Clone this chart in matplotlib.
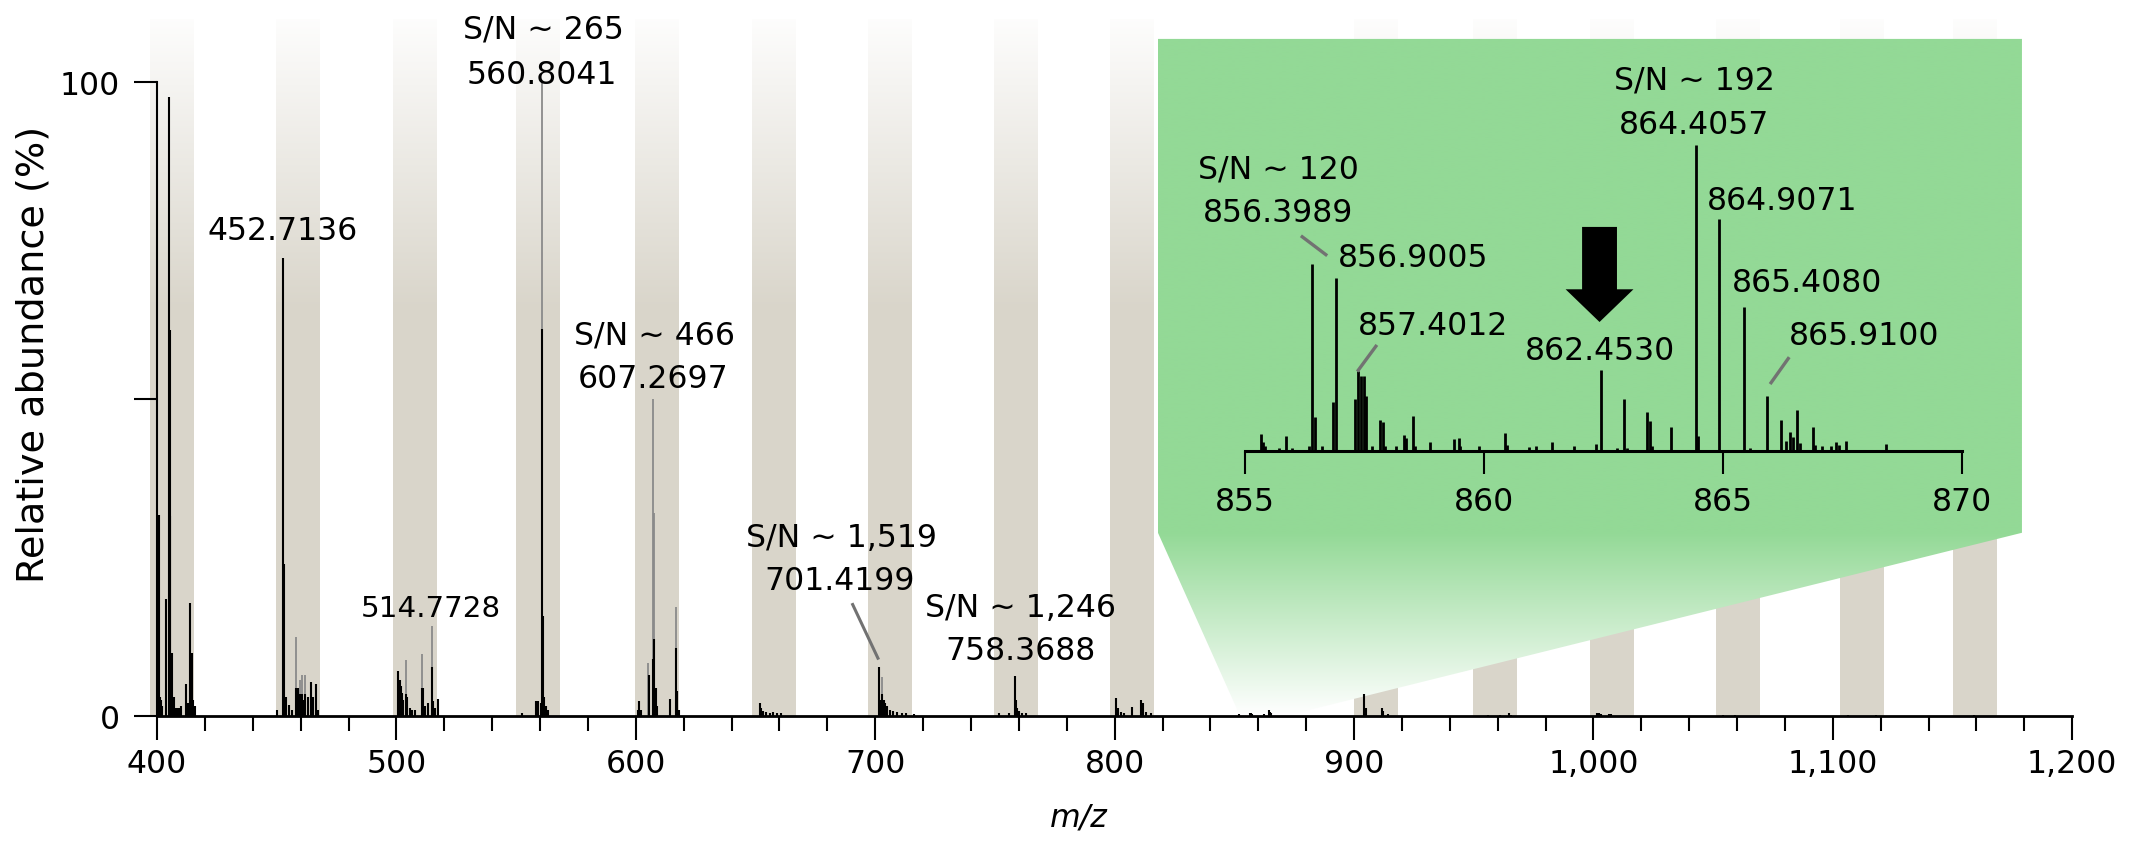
import numpy as np
import matplotlib
matplotlib.use("Agg")
import matplotlib.pyplot as plt
from matplotlib import ticker
from matplotlib.patches import Polygon, FancyArrow

plt.rcParams['font.family'] = ['DejaVu Sans']

# ---- main spectrum (m/z, relative abundance %) ----
main_mz = [400.7, 401.1, 401.6, 402.2, 403.9, 404.8, 405.35, 405.6, 406.3, 406.9, 407.6, 408.3, 409.1, 409.8,
           412.3, 413.0, 413.9, 414.4, 415.0, 415.8,
           449.9, 452.71, 453.21, 453.7, 455.2, 456.5, 458.2, 458.8, 459.9, 460.7, 461.2, 462.0, 463.0,
           464.2, 465.2, 466.6, 467.2,
           500.8, 501.3, 501.8, 502.4, 502.9, 503.9, 504.5, 505.5, 506.5, 507.8, 510.6, 511.1, 512.0,
           513.3, 514.77, 515.3, 516.0, 517.5,
           552.5, 558.2, 559.2, 560.3, 560.80, 561.30, 561.8, 562.3, 563.5,
           600.7, 601.4, 602.0, 605.5, 607.27, 607.77, 608.27, 609.0, 614.3, 616.8, 617.3, 618.0,
           651.7, 652.3, 653.0, 654.5, 656.0, 657.5, 659.0, 660.5,
           701.42, 701.9, 702.9, 703.5, 704.2, 705.0, 706.0, 707.5, 709.0, 711.0, 713.0, 716.0,
           751.5, 756.0, 758.37, 758.9, 759.4, 760.0, 761.5, 763.0,
           800.7, 801.2, 802.5, 804.0, 807.4, 811.0, 811.8, 813.0, 815.0,
           852.0, 856.4, 856.9, 857.4, 862.5, 864.4, 864.9, 865.4,
           904.2, 904.8, 911.7, 912.3, 914.0,
           956.0, 961.0, 964.9, 965.5,
           1001.5, 1002.2, 1003.0, 1006.5, 1007.5,
           1054.0, 1059.0, 1106.5, 1118.0, 1159.0]
main_int = [31.7, 3.0, 2.5, 1.5, 18.5, 97.6, 60.9, 31.5, 10.0, 3.0, 1.3, 1.2, 1.3, 1.5,
            5.0, 2.0, 17.9, 10.0, 2.5, 1.5,
            1.0, 72.2, 23.9, 3.0, 1.7, 1.0, 4.4, 4.4, 3.5, 3.5, 2.5, 3.5, 3.0,
            5.4, 3.0, 5.0, 1.0,
            7.1, 5.7, 4.7, 3.7, 2.5, 3.5, 3.0, 1.2, 1.0, 1.0, 4.4, 4.4, 1.5,
            2.0, 7.8, 2.4, 1.2, 2.7,
            0.4, 2.4, 2.4, 2.0, 61.0, 15.8, 3.0, 1.5, 1.0,
            1.0, 2.4, 1.0, 6.4, 9.0, 12.1, 4.4, 1.5, 2.7, 10.8, 4.0, 1.0,
            2.0, 1.2, 0.8, 0.6, 0.5, 0.6, 0.5, 0.4,
            7.8, 2.5, 3.5, 2.5, 2.0, 1.5, 1.0, 0.8, 0.6, 0.5, 0.4, 0.3,
            0.4, 0.5, 6.3, 2.5, 1.2, 0.8, 0.5, 0.4,
            2.9, 1.2, 0.6, 0.4, 1.4, 2.6, 2.0, 0.6, 0.4,
            0.3, 0.5, 0.4, 0.3, 0.3, 1.0, 0.7, 0.4,
            3.5, 1.2, 1.2, 0.8, 0.3,
            0.2, 0.2, 0.5, 0.2,
            0.5, 0.4, 0.3, 0.3, 0.3,
            0.2, 0.2, 0.2, 0.2, 0.2]

# thin (grey looking) peak tips
tip_mz = [458.2, 459.9, 460.7, 462.0, 503.9, 510.6, 514.77, 560.80, 605.0, 607.27, 607.77, 616.8, 702.9]
tip_int = [12.5, 5.7, 6.4, 6.4, 8.8, 9.8, 14.2, 100.0, 8.4, 50.0, 32.0, 17.2, 6.2]

# shaded m/z windows
band_start = [397, 449.5, 498.5, 550, 599.5, 648.5, 697, 749.5, 798, 900, 949.5, 998.5, 1051, 1103, 1150]
band_width = 18.5

main_labels = ["S/N ~ 265", "560.8041", "452.7136", "514.7728", "S/N ~ 466", "607.2697",
               "S/N ~ 1,519", "701.4199", "S/N ~ 1,246", "758.3688"]
main_label_pos = [(561.2, 107.1), (560.8, 99.9), (452.6, 75.2), (514.5, 15.8), (607.6, 58.7),
                  (607.2, 51.9), (685.9, 26.8), (685.3, 20.0), (760.7, 15.8), (760.5, 9.0)]

# ---- inset spectrum ----
inset_mz = [855.33, 855.37, 855.42, 855.72, 855.86, 855.98, 856.33, 856.40, 856.46, 856.62, 856.84, 856.90,
            857.31, 857.36, 857.43, 857.50, 857.54, 857.66, 857.83, 857.89, 857.94, 858.15, 858.32, 858.37,
            858.51, 858.55, 858.88, 859.37, 859.47, 859.51, 859.90, 860.44, 860.49, 860.94, 861.08, 861.43,
            861.89, 862.34, 862.45, 862.78, 862.94, 862.99, 863.42, 863.47, 863.51, 863.92, 864.43, 864.48,
            864.92, 865.44, 865.57, 865.92, 866.22, 866.33, 866.41, 866.46, 866.56, 866.62, 866.89, 866.94,
            867.08, 867.26, 867.36, 867.43, 867.57, 868.42]
inset_int = [5.5, 2.7, 1.5, 1.0, 4.9, 1.0, 1.6, 61.0, 11.0, 1.6, 16.0, 56.4,
             17.0, 26.0, 24.5, 24.5, 18.0, 1.6, 10.0, 9.3, 1.6, 1.6, 5.1, 4.0,
             11.5, 1.6, 2.9, 3.8, 4.0, 1.5, 1.6, 5.8, 2.0, 1.1, 1.5, 2.7,
             1.6, 2.2, 26.5, 1.0, 16.9, 1.0, 12.5, 9.8, 1.5, 7.9, 100.0, 4.9,
             75.8, 46.9, 1.0, 18.0, 10.1, 3.3, 6.2, 4.5, 13.4, 2.5, 7.6, 2.0,
             1.6, 1.6, 2.9, 2.0, 3.3, 2.2]

inset_labels = ["S/N ~ 120", "856.3989", "856.9005", "857.4012", "862.4530",
                "S/N ~ 192", "864.4057", "864.9071", "865.4080", "865.9100"]
inset_label_pos = [(855.69, 89.5), (855.69, 75.2), (858.51, 60.5), (858.93, 38.2), (862.43, 30.0),
                   (864.40, 118.6), (864.40, 103.9), (866.24, 79.1), (866.77, 52.2), (867.96, 34.9)]
inset_leaders = [((856.17, 70.3), (856.72, 63.8)), ((857.76, 34.6), (857.35, 25.9)),
                 ((866.39, 30.6), (865.99, 21.8))]

FS = 22.7
GREEN = np.array([147, 217, 150]) / 255.0
BAND = '#d9d5ca'
LEADER = '#727272'

fig = plt.figure(figsize=(21.39, 8.45), dpi=100)
ax = fig.add_axes([0.06223, 0.15148, 0.90655, 0.8253])
ax.set_facecolor('white')

for b in band_start:
    ax.axvspan(b, b + band_width, color=BAND, lw=0, zorder=0.2)

# white fade at the top of the shaded bands
ys = np.linspace(110, 0, 300)
fade = np.ones((300, 1, 4))
fade[:, 0, 3] = np.clip((ys - 64) / 48.0, 0, 1)
ax.imshow(fade, extent=[390, 1200, 0, 110], aspect='auto', origin='upper',
          zorder=0.5, interpolation='bilinear')

# green zoom region with fading funnel
gy = np.linspace(106.8, 0, 400)
t = np.clip(gy / 28.9, 0, 1)
gimg = np.ones((400, 1, 3))
gimg[:, 0, :] = 1 - (1 - GREEN)[None, :] * t[:, None]
gim = ax.imshow(gimg, extent=[818.1, 1179.0, 0, 106.8], aspect='auto', origin='upper',
                zorder=1, interpolation='bilinear')
funnel = Polygon([(818.1, 106.8), (1179.0, 106.8), (1179.0, 28.9), (871.2, 0), (852.4, 0), (818.1, 28.9)],
                 closed=True, transform=ax.transData, facecolor='none', edgecolor='none')
gim.set_clip_path(funnel)

ax.vlines(tip_mz, 0, tip_int, color='#8a8a8a', lw=1.3, zorder=2)
ax.vlines(main_mz, 0, main_int, color='black', lw=1.5, zorder=2.1)

for txt, (x, y) in zip(main_labels, main_label_pos):
    fs = FS - 1.5 if txt == "514.7728" else FS
    ax.text(x, y, txt, ha='center', va='baseline', fontsize=fs, zorder=5)
ax.plot([690.3, 701.4], [17.8, 8.9], color=LEADER, lw=2.2, solid_capstyle='butt', zorder=3)

ax.set_xlim(390, 1200)
ax.set_ylim(0, 110)
for s in ['top', 'right']:
    ax.spines[s].set_visible(False)
ax.spines['left'].set_position(('data', 400))
ax.spines['left'].set_bounds(0, 100)
ax.spines['bottom'].set_bounds(400, 1200)
ax.spines['left'].set_linewidth(1.5)
ax.spines['bottom'].set_linewidth(2.0)
ax.spines['left'].set_zorder(3)
ax.spines['bottom'].set_zorder(3)

ax.set_xticks(range(400, 1201, 100))
ax.xaxis.set_major_formatter(ticker.FuncFormatter(lambda v, p: f"{int(v):,}"))
ax.xaxis.set_minor_locator(ticker.MultipleLocator(20))
ax.set_yticks([0, 50, 100])
ax.set_yticklabels(['0', '', '100'])
ax.tick_params(axis='x', which='major', direction='out', length=17, width=1.5, labelsize=FS, pad=6)
ax.tick_params(axis='x', which='minor', direction='out', length=11, width=1.5)
ax.tick_params(axis='y', direction='out', length=16.5, width=1.5, labelsize=FS, pad=10)

fig.text(34 / 2139, 1 - 354 / 845, "Relative abundance (%)", rotation=90, ha='center', va='center',
         fontsize=27.5)
fig.text(1079 / 2139, 1 - 818 / 845, "m/z", ha='center', va='center', fontsize=FS, fontstyle='italic')

# ---- inset ----
axin = fig.add_axes([0.58205, 0.46544, 0.33506, 0.36178])
axin.patch.set_visible(False)
axin.vlines(inset_mz, 0, inset_int, color='black', lw=2.0)
axin.set_xlim(855, 870)
axin.set_ylim(0, 100)
for s in ['top', 'right', 'left']:
    axin.spines[s].set_visible(False)
axin.spines['bottom'].set_linewidth(2.2)
axin.set_yticks([])
axin.set_xticks([855, 860, 865, 870])
axin.tick_params(axis='x', direction='out', length=16.6, width=1.5, labelsize=FS, pad=9)

for txt, (x, y) in zip(inset_labels, inset_label_pos):
    axin.text(x, y, txt, ha='center', va='baseline', fontsize=FS, clip_on=False)
for (p0, p1) in inset_leaders:
    axin.plot([p0[0], p1[0]], [p0[1], p1[1]], color=LEADER, lw=2.4, solid_capstyle='butt')

arrow_x, arrow_top, arrow_tip = 862.42, 73.2, 42.1
axin.add_patch(FancyArrow(arrow_x, arrow_top, 0, arrow_tip - arrow_top, width=0.73, head_width=1.42,
                          head_length=10.7, length_includes_head=True, color='black', lw=0))

fig.savefig('out.png', dpi=100)
